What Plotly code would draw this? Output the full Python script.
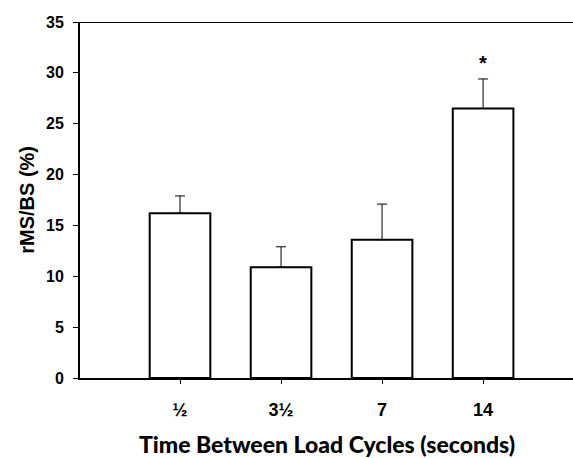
import plotly.graph_objects as go

categories = ["½", "3½", "7", "14"]
values = [16.2, 10.9, 13.6, 26.5]
err_plus = [1.7, 2.0, 3.5, 2.9]
sig_marks = ["", "", "", "*"]
sig_y = [None, None, None, 31.0]

fig = go.Figure()
fig.add_trace(go.Bar(
    x=categories, y=values, width=0.6,
    marker=dict(color="white", line=dict(color="black", width=2)),
    error_y=dict(type="data", array=err_plus, arrayminus=[0]*4, symmetric=False,
                 color="black", thickness=1, width=5),
    showlegend=False,
))

for i, (m, yy) in enumerate(zip(sig_marks, sig_y)):
    if m:
        fig.add_annotation(x=i, y=yy, text="<b>" + m + "</b>", showarrow=False, xref="x", yref="y",
                           font=dict(family="Liberation Sans", size=20, color="black"))

fig.add_shape(type="line", xref="paper", yref="y", x0=0, x1=1, y0=35, y1=35,
              line=dict(color="black", width=2))

fig.add_annotation(xref="paper", yref="paper", x=-0.108, y=0.5, text="<b>rMS/BS (%)</b>",
                   textangle=-90, showarrow=False, xanchor="center", yanchor="middle",
                   font=dict(family="Liberation Sans, Arial", size=20, color="black"))
fig.add_annotation(xref="paper", yref="paper", x=0.5, y=-0.1855,
                   text="Time Between Load Cycles (seconds)",
                   showarrow=False, xanchor="center", yanchor="middle",
                   font=dict(family="Lato, Open Sans", size=23, color="black", weight=900))

fig.update_layout(
    width=573, height=458,
    margin=dict(l=80, r=0, t=22, b=80),
    plot_bgcolor="white", paper_bgcolor="white",
    xaxis=dict(type="category", range=[-0.99, 3.89], showline=True, linecolor="black", linewidth=2,
               ticks="outside", ticklen=4, tickcolor="black", tickwidth=1,
               tickfont=dict(family="Liberation Sans, Arial", size=18, color="black", weight="bold"),
               ticklabelstandoff=10, showgrid=False, zeroline=False),
    yaxis=dict(range=[0, 35], dtick=5, showline=True, linecolor="black", linewidth=2,
               ticks="outside", ticklen=5, tickcolor="black", tickwidth=1,
               tickfont=dict(family="Liberation Sans, Arial", size=16, color="black", weight="bold"),
               ticklabelstandoff=6, showgrid=False, zeroline=False),
)

fig.write_html("out.html")
